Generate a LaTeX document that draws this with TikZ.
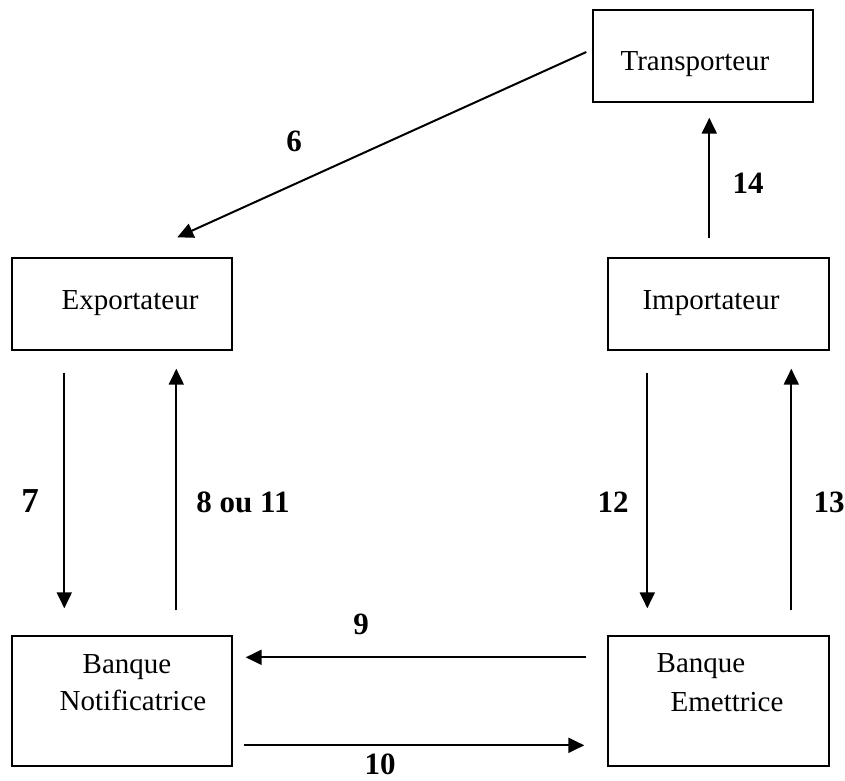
\documentclass[tikz,border=0pt]{standalone}
\usepackage{fontspec}
\setmainfont{Liberation Serif}
\usetikzlibrary{arrows.meta}

\begin{document}
\begin{tikzpicture}[x=1pt,y=-1pt,
  box/.style={draw=black, line width=1.4pt, minimum width=#1, inner sep=0pt},
  box/.default={220pt},
  boxtext/.style={anchor=base, inner sep=0pt, font=\fontsize{29}{34}\selectfont},
  numlabel/.style={anchor=base, inner sep=0pt, font=\fontsize{31}{36}\selectfont\bfseries},
  arr/.style={line width=2pt, -{Triangle[length=16pt,width=15pt]}}
]
\useasboundingbox (0,0) rectangle (845,780);

% boxes
\node[box, minimum height=92pt] (trans) at (703,56) {};
\node[box, minimum height=92pt] (exp) at (122,304) {};
\node[box={221pt}, minimum height=92pt] (imp) at (718.5,304) {};
\node[box, minimum height=130pt] (notif) at (122,701) {};
\node[box={221pt}, minimum height=130pt] (emet) at (718.5,701) {};

% box texts
\node[boxtext] (ttrans) at (695,70) {Transporteur};
\node[boxtext] (texp) at (130,309) {Exportateur};
\node[boxtext] (timp) at (711,309) {Importateur};
\node[boxtext] (tnotifa) at (127,673) {Banque};
\node[boxtext] (tnotifb) at (133,710) {Notificatrice};
\node[boxtext] (temeta) at (701,672) {Banque};
\node[boxtext] (temetb) at (727,711) {Emettrice};

% connectors
\draw[arr] ([xshift=-6pt,yshift=4pt]trans.west) -- ([xshift=166pt,yshift=20pt]exp.north west);
\draw[arr] ([xshift=102pt,yshift=19pt]imp.north west) -- ([xshift=117pt,yshift=-15pt]trans.south west);
\draw[arr] ([xshift=53pt,yshift=-22pt]exp.south west) -- ([xshift=53pt,yshift=27pt]notif.north west);
\draw[arr] ([xshift=165pt,yshift=25pt]notif.north west) -- ([xshift=165pt,yshift=-18pt]exp.south west);
\draw[arr] ([xshift=40pt,yshift=-22pt]imp.south west) -- ([xshift=40pt,yshift=27pt]emet.north west);
\draw[arr] ([xshift=184pt,yshift=25pt]emet.north west) -- ([xshift=184pt,yshift=-18pt]imp.south west);
\draw[arr] ([xshift=-21pt,yshift=-22pt]emet.north west) -- ([xshift=13pt,yshift=-22pt]notif.north east);
\draw[arr] ([xshift=11pt,yshift=-110pt]notif.north east) -- ([xshift=-23pt,yshift=-110pt]emet.north west);

% connector labels
\node[numlabel, anchor=center] (l6) at (294,141) {6};
\node[numlabel] (l14) at (748,193) {14};
\node[numlabel, font=\fontsize{35}{40}\selectfont\bfseries] (l7) at (30,512) {7};
\node[numlabel] (l8) at (243,512) {8 ou 11};
\node[numlabel] (l12) at (613,512) {12};
\node[numlabel] (l13) at (829,512) {13};
\node[numlabel] (l9) at (361,634) {9};
\node[numlabel] (l10) at (380,774) {10};
\end{tikzpicture}
\end{document}
